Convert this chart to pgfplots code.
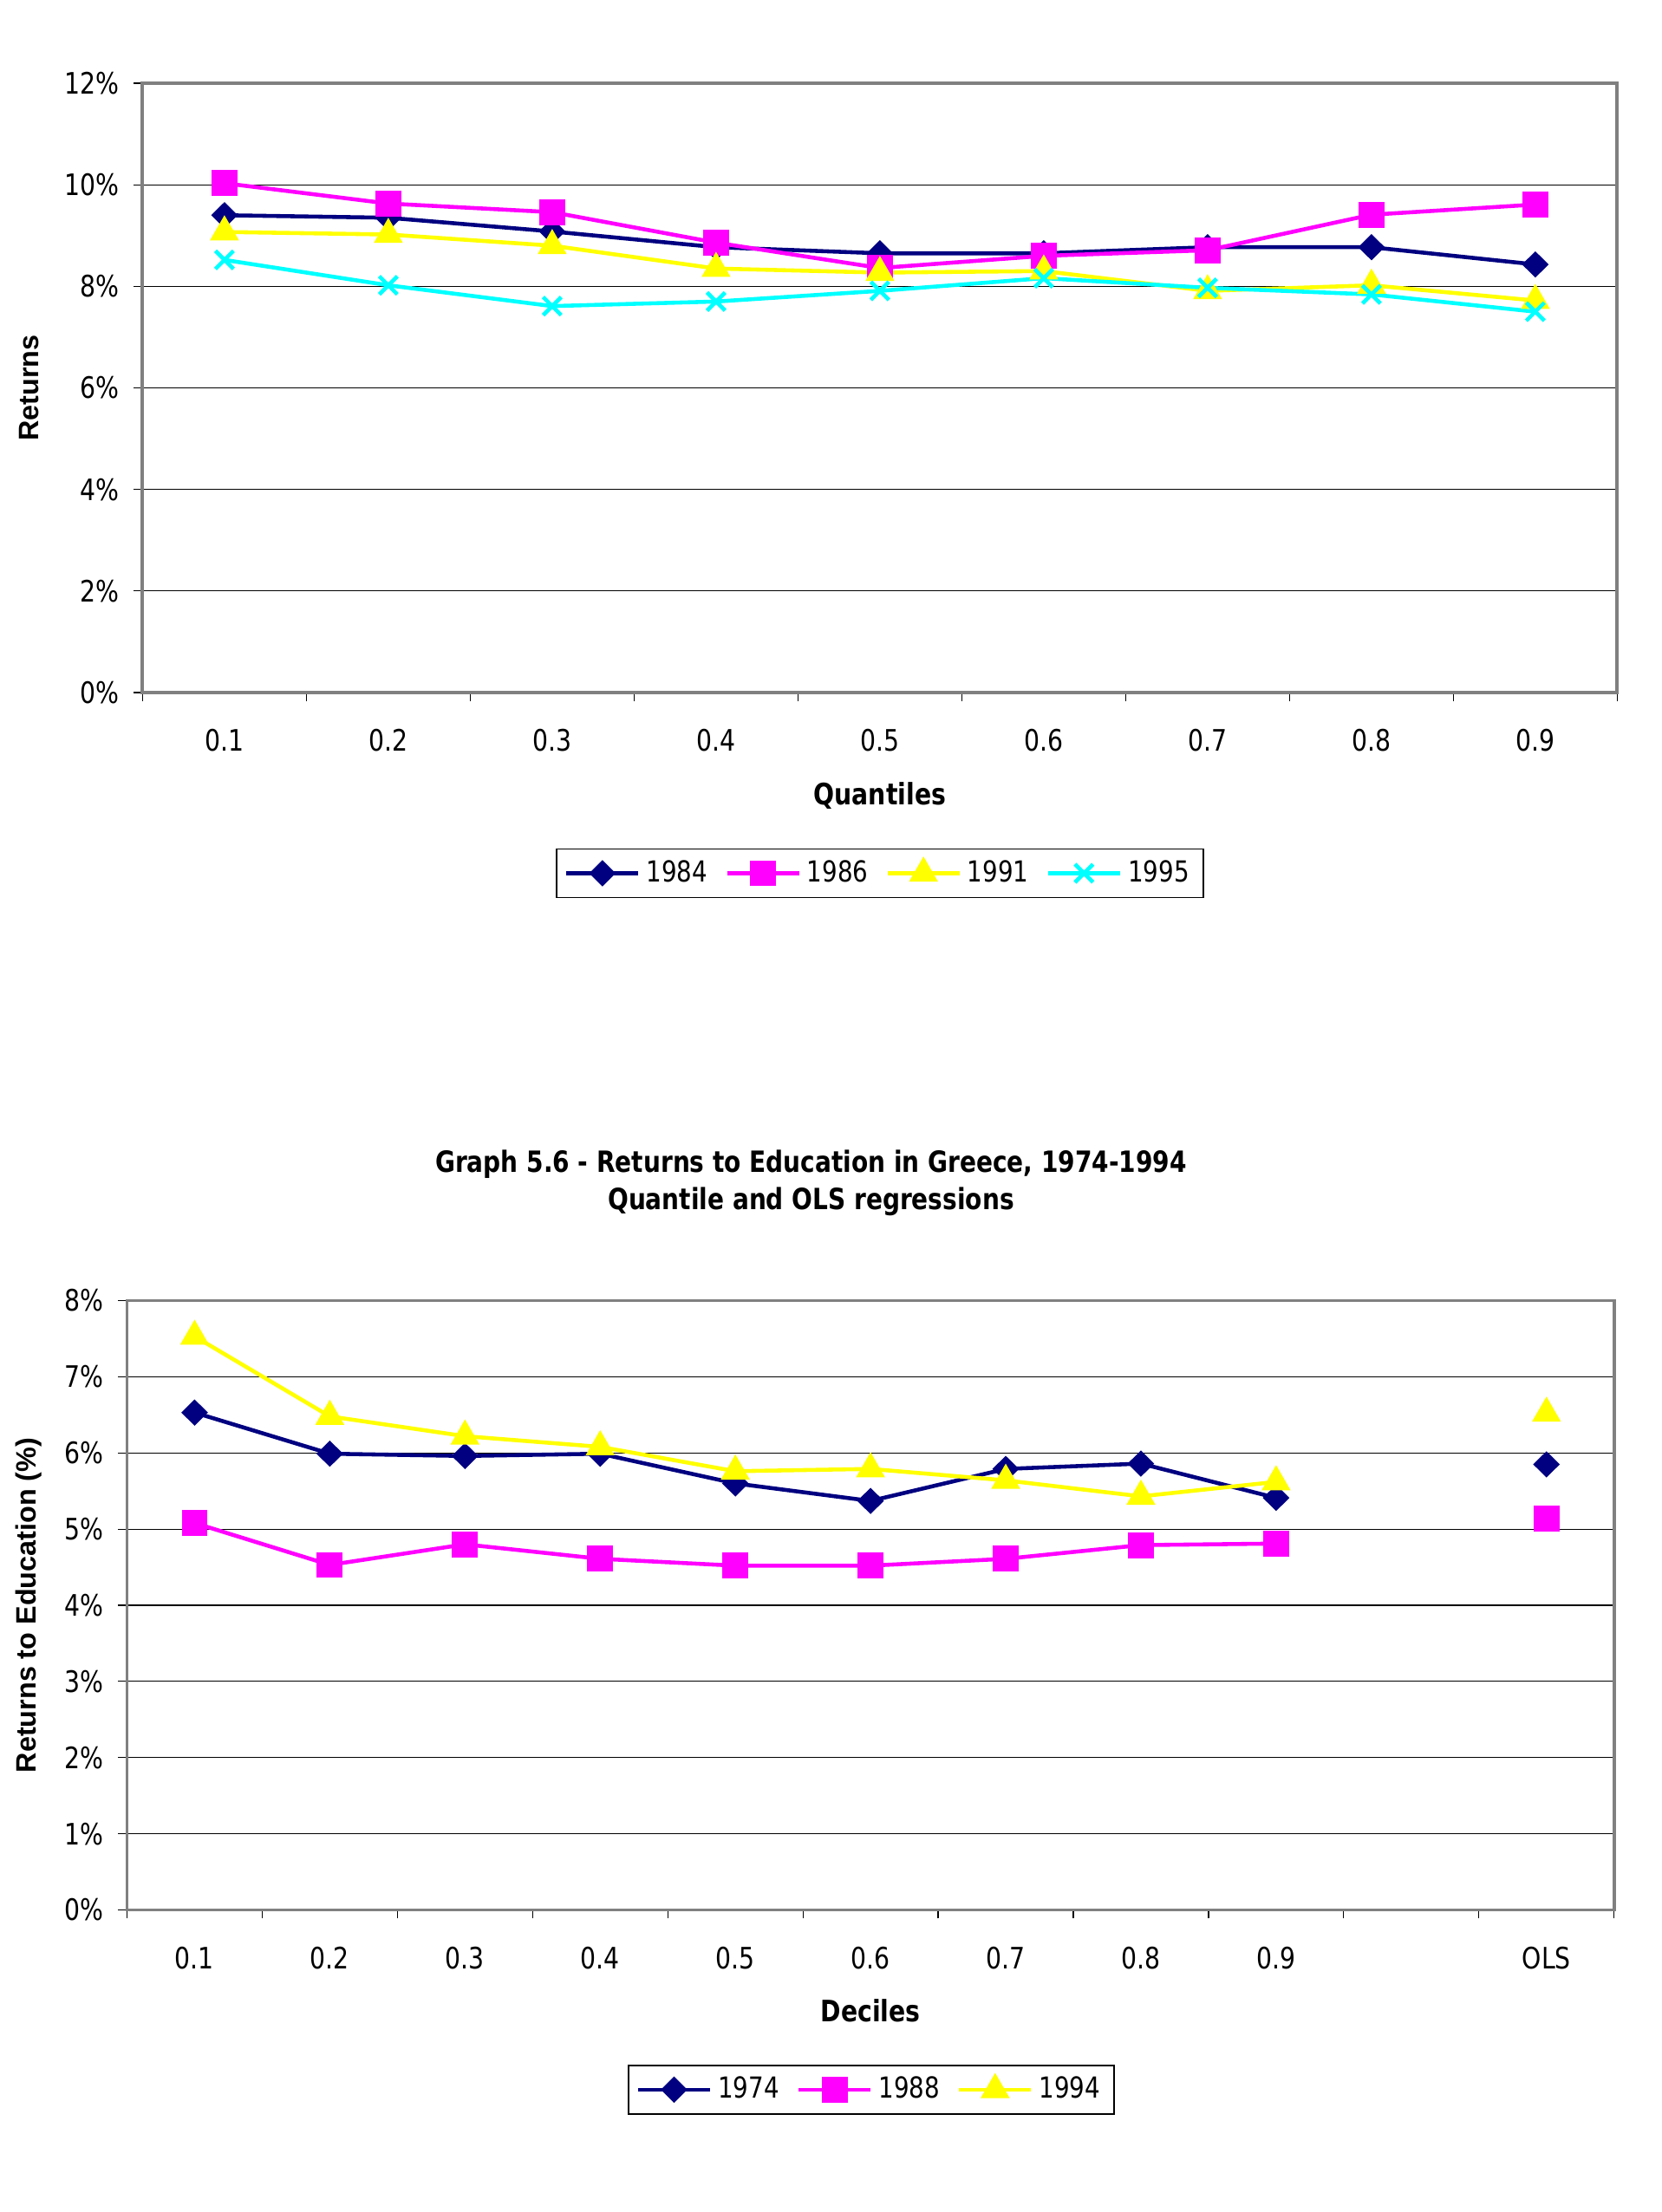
\documentclass[border=0pt]{standalone}
\usepackage{fontspec}
\setmainfont{DejaVu Sans}[FakeStretch=0.83]
\newfontfamily\arialfont{Liberation Sans}
\usepackage{pgfplots}
\pgfplotsset{compat=1.18}
\definecolor{cNavy}{RGB}{0,0,128}
\definecolor{cMag}{RGB}{255,0,255}
\definecolor{cYel}{RGB}{255,255,0}
\definecolor{cCyan}{RGB}{0,255,255}
\pgfplotsset{
  excelstyle/.style={
    scale only axis,
    axis line style={draw=black!50, line width=1.1pt},
    tick label style={font=\fontsize{9.7}{11}\selectfont},
    /pgf/number format/assume math mode=true,
    ymajorgrids, grid style={black, line width=0.3pt},
    tick align=outside,
    xtick pos=bottom, ytick pos=left,
    major tick length=1mm, minor tick length=1mm,
    tick style={black, line width=0.35pt},
    every major x tick/.append style={draw=none},
    yticklabel={\pgfmathprintnumber{\tick}\%},
    yticklabel style={anchor=east, inner sep=0pt, xshift=-1.6mm},
    xticklabel style={anchor=north, inner sep=0pt, yshift=-3.2mm},
    xlabel style={at={(axis description cs:0.5,-0.169)}, anchor=center, font=\bfseries\fontsize{9.7}{11}\selectfont},
    ylabel style={anchor=center, font=\arialfont\bfseries\fontsize{9.2}{11}\selectfont},
    legend style={draw=black, line width=0.5pt, font=\fontsize{9.5}{11}\selectfont,
      legend columns=-1, anchor=center, inner xsep=0.9mm, inner ysep=0.6mm,
      /tikz/every even column/.append style={column sep=1.3mm}},
    legend image code/.code={\draw[mark repeat=2,mark phase=2] plot coordinates {(0cm,0cm) (0.415cm,0cm) (0.83cm,0cm)};},
  },
  sNavy/.style={color=cNavy, line width=1.3pt, mark=diamond*, mark size=3.4pt, mark options={solid, xscale=1.35}},
  sMag/.style={color=cMag, line width=1.3pt, mark=square*, mark size=3.6pt, mark options={solid}},
  sYel/.style={color=cYel, line width=1.3pt, mark=triangle*, mark size=4.2pt, mark options={solid}},
  sCyan/.style={color=cCyan, line width=1.3pt, mark=x, mark size=4.2pt, mark options={solid, line width=1.3pt}},
}
\begin{document}
\begin{tikzpicture}
\path[use as bounding box] (0,0) rectangle (19.17cm,25.52cm);
% ---------- Top chart ----------
\begin{axis}[excelstyle,
  at={(1.644cm,17.53cm)}, anchor=south west,
  width=17.01cm, height=7.03cm,
  xmin=-0.5, xmax=8.5, ymin=0, ymax=12,
  ytick={0,2,4,6,8,10,12},
  xtick={0,1,2,3,4,5,6,7,8},
  xticklabels={0.1,0.2,0.3,0.4,0.5,0.6,0.7,0.8,0.9},
  minor xtick={-0.5,0.5,1.5,2.5,3.5,4.5,5.5,6.5,7.5,8.5},
  xlabel={Quantiles},
  ylabel={Returns},
  ylabel style={at={(axis description cs:-0.077,0.5)}},
  legend style={at={(0.5,-0.2966)}},
]
\addplot[sNavy] coordinates {(0,9.40) (1,9.35) (2,9.08) (3,8.77) (4,8.65) (5,8.65) (6,8.77) (7,8.77) (8,8.43)};
\addlegendentry{1984}
\addplot[sMag] coordinates {(0,10.03) (1,9.63) (2,9.46) (3,8.86) (4,8.36) (5,8.60) (6,8.71) (7,9.41) (8,9.61)};
\addlegendentry{1986}
\addplot[sYel] coordinates {(0,9.07) (1,9.02) (2,8.80) (3,8.35) (4,8.27) (5,8.30) (6,7.91) (7,8.02) (8,7.72)};
\addlegendentry{1991}
\addplot[sCyan] coordinates {(0,8.52) (1,8.02) (2,7.61) (3,7.70) (4,7.91) (5,8.16) (6,7.97) (7,7.84) (8,7.50)};
\addlegendentry{1995}
\end{axis}
% ---------- Bottom chart ----------
\begin{axis}[excelstyle,
  at={(1.465cm,3.485cm)}, anchor=south west,
  width=17.152cm, height=7.03cm,
  xmin=-0.5, xmax=10.5, ymin=0, ymax=8,
  ytick={0,1,2,3,4,5,6,7,8},
  xtick={0,1,2,3,4,5,6,7,8,10},
  xticklabels={0.1,0.2,0.3,0.4,0.5,0.6,0.7,0.8,0.9,OLS},
  minor xtick={-0.5,0.5,1.5,2.5,3.5,4.5,5.5,6.5,7.5,8.5,9.5,10.5},
  unbounded coords=jump,
  xlabel={Deciles},
  xlabel style={at={(axis description cs:0.5,-0.166)}},
  ylabel={Returns to Education (\%)},
  ylabel style={at={(axis description cs:-0.0662,0.5)}},
  title={Graph 5.6 - Returns to Education in Greece, 1974-1994\\Quantile and OLS regressions},
  title style={at={(axis description cs:0.46,1.163)}, anchor=center, align=center, font=\bfseries\fontsize{9.6}{12.5}\selectfont},
  legend style={at={(0.5005,-0.295)}},
]
\addplot[sNavy] coordinates {(0,6.53) (1,5.99) (2,5.96) (3,5.99) (4,5.60) (5,5.37) (6,5.79) (7,5.86) (8,5.41) (9,nan) (10,5.85)};
\addlegendentry{1974}
\addplot[sMag] coordinates {(0,5.08) (1,4.53) (2,4.80) (3,4.61) (4,4.52) (5,4.52) (6,4.61) (7,4.79) (8,4.81) (9,nan) (10,5.14)};
\addlegendentry{1988}
\addplot[sYel] coordinates {(0,7.53) (1,6.48) (2,6.22) (3,6.08) (4,5.76) (5,5.79) (6,5.64) (7,5.43) (8,5.62) (9,nan) (10,6.52)};
\addlegendentry{1994}
\end{axis}
\end{tikzpicture}
\end{document}
